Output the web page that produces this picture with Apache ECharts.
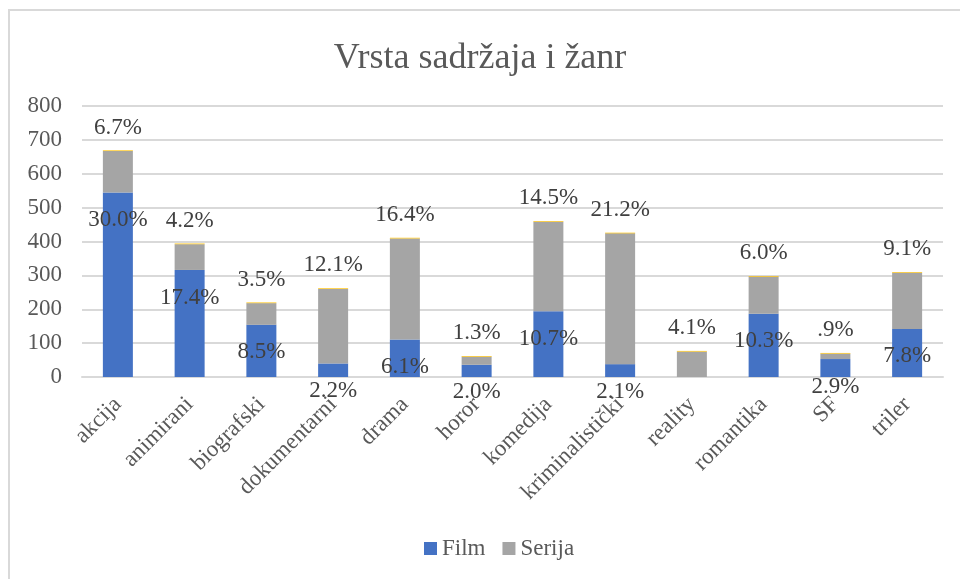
<!DOCTYPE html>
<html>
<head>
<meta charset="utf-8">
<title>Vrsta sadržaja i žanr</title>
<script src="https://cdn.jsdelivr.net/npm/echarts@6/dist/echarts.min.js"></script>
<style>
  html, body { margin: 0; padding: 0; background: #fff; }
  #chart { width: 960px; height: 579px; }
</style>
</head>
<body>
<div id="chart"></div>
<script>
// podaci
const categories = ['akcija', 'animirani', 'biografski', 'dokumentarni', 'drama', 'horor',
  'komedija', 'kriminalistički', 'reality', 'romantika', 'SF', 'triler']
const filmData = [545, 316, 154, 40, 111, 36, 194, 38, 0, 187, 53, 142]
const serijaData = [122, 76, 64, 220, 298, 24, 264, 386, 75, 109, 16, 166]
const ostaloData = [2, 2, 2, 2, 2, 2, 2, 2, 2, 2, 2, 2] // tanka žuta linija na vrhu
const filmPct = ['30.0%', '17.4%', '8.5%', '2.2%', '6.1%', '2.0%', '10.7%', '2.1%', '', '10.3%', '2.9%', '7.8%']
const serijaPct = ['6.7%', '4.2%', '3.5%', '12.1%', '16.4%', '1.3%', '14.5%', '21.2%', '4.1%', '6.0%', '.9%', '9.1%']
const yTicks = { min: 0, max: 800, interval: 100 }

const font = 'Liberation Serif, Times New Roman, serif'

const chart = echarts.init(document.getElementById('chart'), null, { renderer: 'canvas' })

chart.setOption({
  animation: false,
  backgroundColor: '#fff',
  graphic: [{
    type: 'rect',
    shape: { x: 9, y: 10, width: 1000, height: 1000 },
    style: { fill: 'none', stroke: '#D9D9D9', lineWidth: 2 },
    silent: true
  }],
  title: {
    text: 'Vrsta sadržaja i žanr',
    left: 'center',
    top: 36,
    textStyle: { fontFamily: font, fontSize: 36, fontWeight: 'normal', color: '#595959' }
  },
  grid: { left: 82, right: 17, top: 106, bottom: 202 },
  legend: {
    data: ['Film', 'Serija'],
    bottom: 14,
    left: 419,
    icon: 'rect',
    itemWidth: 13,
    itemHeight: 13,
    itemGap: 17,
    textStyle: { fontFamily: font, fontSize: 23, color: '#595959' }
  },
  xAxis: {
    type: 'category',
    data: categories,
    axisTick: { show: false },
    axisLine: { lineStyle: { color: '#D9D9D9', width: 2 } },
    axisLabel: {
      interval: 0,
      rotate: 45,
      margin: 24,
      fontFamily: font,
      fontSize: 23,
      color: '#595959'
    }
  },
  yAxis: {
    type: 'value',
    min: yTicks.min,
    max: yTicks.max,
    interval: yTicks.interval,
    axisLine: { show: false },
    axisTick: { show: false },
    splitLine: { lineStyle: { color: '#D9D9D9', width: 2 } },
    axisLabel: { margin: 20, fontFamily: font, fontSize: 23, color: '#595959' }
  },
  series: [
    {
      name: 'Film',
      type: 'bar',
      stack: 'ukupno',
      barWidth: 30,
      data: filmData,
      itemStyle: { color: '#4472C4' },
      label: {
        show: true,
        position: 'insideTop',
        distance: 16,
        fontFamily: font,
        fontSize: 23,
        color: '#404040',
        formatter: (p) => filmPct[p.dataIndex]
      }
    },
    {
      name: 'Serija',
      type: 'bar',
      stack: 'ukupno',
      barWidth: 30,
      data: serijaData,
      itemStyle: { color: '#A5A5A5' },
      label: {
        show: true,
        position: 'top',
        distance: 12,
        fontFamily: font,
        fontSize: 23,
        color: '#404040',
        formatter: (p) => serijaPct[p.dataIndex]
      }
    },
    {
      name: 'Ostalo',
      type: 'bar',
      stack: 'ukupno',
      barWidth: 30,
      data: ostaloData,
      itemStyle: { color: '#FFC000' }
    }
  ]
})
</script>
</body>
</html>
